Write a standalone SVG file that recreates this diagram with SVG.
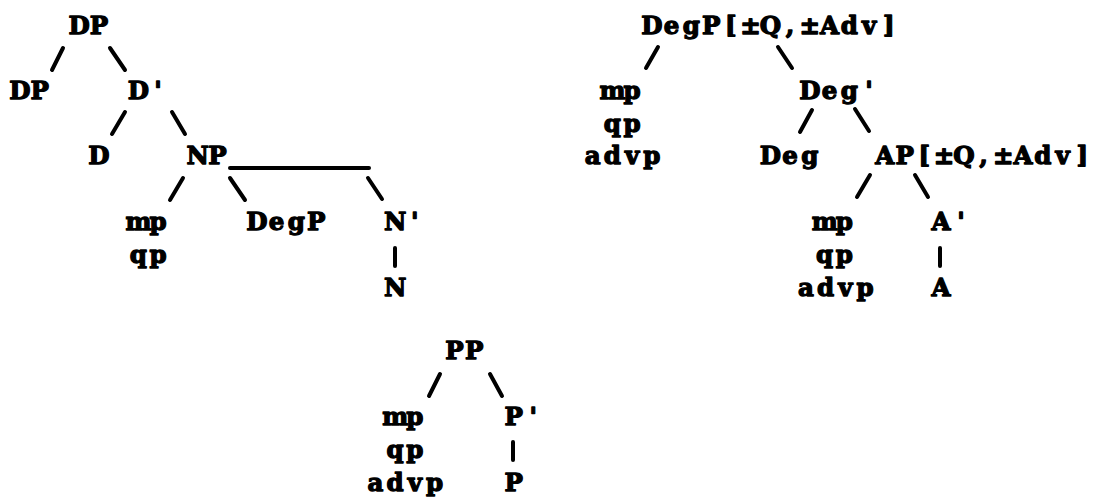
<svg xmlns="http://www.w3.org/2000/svg" width="1102" height="497" viewBox="0 0 1102 497">
<style>
text{font-family:"DejaVu Serif","Liberation Serif",serif;font-weight:bold;font-size:24.5px;fill:#000;stroke:#000;stroke-width:1.3px;stroke-linejoin:round;text-anchor:middle}
.e{stroke:#000;stroke-width:4;stroke-linecap:round;fill:none}
</style>
<rect width="1102" height="497" fill="#fff"/>
<g id="connectors">
<line class="e" x1="63" y1="48" x2="52" y2="70"/>
<line class="e" x1="110" y1="48" x2="125" y2="70"/>
<line class="e" x1="125" y1="112" x2="112" y2="134"/>
<line class="e" x1="172" y1="112" x2="185" y2="134"/>
<line class="e" x1="230" y1="168" x2="369" y2="168"/>
<line class="e" x1="183" y1="178" x2="170" y2="200"/>
<line class="e" x1="230" y1="178" x2="245" y2="200"/>
<line class="e" x1="368" y1="178" x2="382" y2="199"/>
<line class="e" x1="395" y1="248" x2="395" y2="266"/>
<line class="e" x1="658" y1="47" x2="646" y2="68"/>
<line class="e" x1="778" y1="47" x2="792" y2="68"/>
<line class="e" x1="812" y1="110" x2="800" y2="132"/>
<line class="e" x1="855" y1="109" x2="869" y2="131"/>
<line class="e" x1="870" y1="175" x2="857" y2="197"/>
<line class="e" x1="915" y1="175" x2="928" y2="197"/>
<line class="e" x1="940" y1="248" x2="940" y2="266"/>
<line class="e" x1="440" y1="374" x2="429" y2="396"/>
<line class="e" x1="490" y1="374" x2="502" y2="396"/>
<line class="e" x1="513" y1="442" x2="513" y2="460"/>
</g>
<g id="dp-root"><text x="79.125 98.875" y="34">DP</text></g>
<g id="dp-spec"><text x="19.875 39.625" y="99">DP</text></g>
<g id="d-bar"><text x="138.375 158.125" y="99">D'</text></g>
<g id="d-head"><text x="98.875" y="164">D</text></g>
<g id="np"><text x="197.625 217.375" y="164">NP</text></g>
<g id="np-spec"><text x="138.375 158.125" y="230">mp</text><text x="138.375 158.125" y="263">qp</text></g>
<g id="np-degp"><text x="256.875 276.625 296.375 316.125" y="230">DegP</text></g>
<g id="n-bar"><text x="395.125 414.875" y="230">N'</text></g>
<g id="n-head"><text x="395.125" y="296">N</text></g>
<g id="degp-root"><text x="651.875 671.625 691.375 711.125 730.875 750.625 770.375 790.125 809.875 829.625 849.375 869.125 888.875" y="34">DegP[±Q,±Adv]</text></g>
<g id="degp-spec"><text x="612.375 632.125" y="99">mp</text><text x="612.375 632.125" y="131.5">qp</text><text x="592.625 612.375 632.125 651.875" y="164">advp</text></g>
<g id="deg-bar"><text x="809.875 829.625 849.375 869.125" y="99">Deg'</text></g>
<g id="deg-head"><text x="770.375 790.125 809.875" y="164">Deg</text></g>
<g id="ap"><text x="884.875 904.625 924.375 944.125 963.875 983.625 1003.375 1023.125 1042.875 1062.625 1082.375" y="164">AP[±Q,±Adv]</text></g>
<g id="ap-spec"><text x="824.6 844.4" y="230">mp</text><text x="824.6 844.4" y="263">qp</text><text x="805.9 825.6 845.4 865.1" y="296">advp</text></g>
<g id="a-bar"><text x="941.1 960.9" y="230">A'</text></g>
<g id="a-head"><text x="941.1" y="296">A</text></g>
<g id="pp-root"><text x="454.375 474.125" y="359">PP</text></g>
<g id="pp-spec"><text x="395.125 414.875" y="425">mp</text><text x="395.125 414.875" y="458">qp</text><text x="375.375 395.125 414.875 434.625" y="491">advp</text></g>
<g id="p-bar"><text x="513.625 533.375" y="425">P'</text></g>
<g id="p-head"><text x="513.625" y="491">P</text></g>
</svg>
